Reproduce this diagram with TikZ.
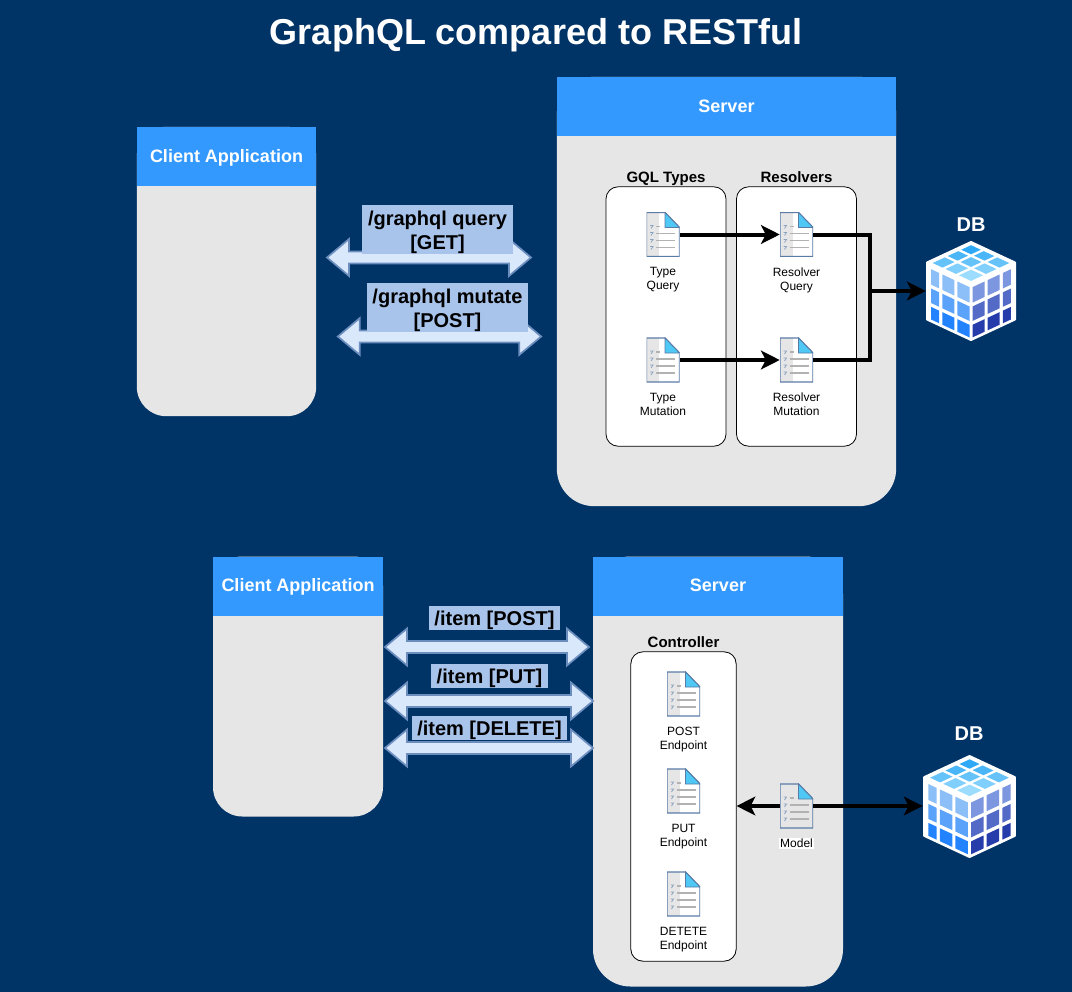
\documentclass[tikz,border=0pt]{standalone}
\usepackage{fontspec}
\setmainfont{Liberation Sans}
\usetikzlibrary{arrows.meta,calc,positioning,shapes.arrows}
\definecolor{navy}{HTML}{003366}
\definecolor{headblue}{HTML}{3399FF}
\definecolor{panelgrey}{HTML}{E6E6E6}
\definecolor{tagblue}{HTML}{A9C4EB}
\definecolor{shaftblue}{HTML}{DAE8FC}
\definecolor{shaftedge}{HTML}{6C8EBF}
\definecolor{docedge}{HTML}{5A7BA6}
\definecolor{foldblue}{HTML}{4FC8F5}
\definecolor{cubeleft}{HTML}{8CBEF8}
\definecolor{cubeleftlow}{HTML}{1E80FF}
\definecolor{cuberight}{HTML}{7C96E0}
\definecolor{cuberightlow}{HTML}{2237A8}
\definecolor{cubetop}{HTML}{9CDCFF}
\definecolor{cubeback}{HTML}{2FA9F5}
\tikzset{
docshape/.pic={
\fill[panelgrey] (-16.5,-22) rectangle (-4,22);
\draw[docedge,line width=1pt] (-16.5,-22)--(2,-22)--(16.5,-7)--(16.5,22)--(-16.5,22)--cycle;
\fill[foldblue,draw=docedge,line width=.6pt] (2,-22)--(16.5,-7)--(2,-7)--cycle;
\foreach \ly in {-1,6,13}{\draw[gray!60,line width=.9pt] (-7,\ly)--(12,\ly);}
\draw[gray!60,line width=.9pt] (-7,-8)--(-3,-8);
\foreach \ly in {-9,-2,5,12}{\draw[docedge!70,line width=.6pt] (-13,\ly)--(-10,\ly)--(-12,\ly+3);}
},
cubeshape/.pic={
\fill[white,draw=white,line width=1.5pt,line join=round] (0,-49)--(44,-28.5)--(44,28.5)--(0,49)--(-44,28.5)--(-44,-28.5)--cycle;
\foreach \ra/\rb/\tr in {.25/1.05/100,1.25/2/55,2.2/2.85/5}{
\foreach \ca/\cb in {.1/.91,1.11/1.91,2.13/2.66}{
\fill[cubeleft!\tr!cubeleftlow] ({-\ca*15},{-8-\ca*7+\ra*19.33})--({-\cb*15},{-8-\cb*7+\ra*19.33})--({-\cb*15},{-8-\cb*7+\rb*19.33})--({-\ca*15},{-8-\ca*7+\rb*19.33})--cycle;
\fill[cuberight!\tr!cuberightlow] ({\ca*15},{-8-\ca*7+\ra*19.33})--({\cb*15},{-8-\cb*7+\ra*19.33})--({\cb*15},{-8-\cb*7+\rb*19.33})--({\ca*15},{-8-\ca*7+\rb*19.33})--cycle;
}}
\foreach \ra/\rb/\ta in {.15/.95/0,1.15/1.85/1,2.05/2.7/2}{
\foreach \ca/\cb/\tb in {.15/.95/0,1.15/1.85/1,2.05/2.7/2}{
\pgfmathtruncatemacro\tmix{100-(\ta+\tb)*25}
\fill[cubetop!\tmix!cubeback] ({(\ca-\ra)*15},{-8-(\ca+\ra)*7})--({(\cb-\ra)*15},{-8-(\cb+\ra)*7})--({(\cb-\rb)*15},{-8-(\cb+\rb)*7})--({(\ca-\rb)*15},{-8-(\ca+\rb)*7})--cycle;
}}
}}
\begin{document}
\begin{tikzpicture}[x=.75pt,y=-.75pt,>={Stealth[length=14pt,width=14pt,inset=3.5pt]},every node/.style={align=center},
panel/.style={fill=panelgrey,rounded corners=22pt,inner sep=0pt},
head/.style={fill=headblue,anchor=north,inner sep=0pt,minimum height=44.25pt,text height=8.5pt,text depth=0pt,text=white,font=\fontsize{13.5}{16}\selectfont\bfseries},
group/.style={draw=black,fill=white,rounded corners=9pt,inner sep=0pt,line width=.6pt},
grouptitle/.style={font=\fontsize{11.25}{13}\selectfont\bfseries,inner sep=0pt,text height=8pt,text depth=0pt,above=2.8pt of #1},
docicon/.style={minimum width=24.75pt,minimum height=33.5pt,inner sep=0pt,path picture={\pic at (path picture bounding box.center) {docshape};}},
doclabel/.style={font=\fontsize{9}{10.5}\selectfont,inner sep=0pt,below=7.6pt of #1},
dbicon/.style={minimum width=67.5pt,minimum height=75pt,inner sep=0pt},
dblabel/.style={text=white,font=\fontsize{15}{18}\selectfont\bfseries,inner sep=0pt},
bigarrow/.style={double arrow,draw=shaftedge,fill=shaftblue,line width=1.3pt,inner sep=3.9pt,minimum width=27pt,double arrow head extend=9.3pt,double arrow tip angle=80},
tag/.style={fill=tagblue,font=\fontsize{15}{18}\selectfont\bfseries,inner xsep=0pt,inner ysep=0pt,minimum height=18pt},
tagline/.style={tag,text height=14pt,text depth=3pt},
link/.style={line width=3pt,line join=miter}]
\fill[navy] (0,0) rectangle (1072,992);
\useasboundingbox (0,0) rectangle (1072,992);
\node[text=white,font=\fontsize{27}{32}\selectfont\bfseries,inner sep=0pt,text height=20pt,text depth=0pt] (title) at (536,31) {GraphQL compared to RESTful};
% graphql half
\node[panel,minimum width=134.5pt,minimum height=217pt] (client1) at (226.5,271.5) {};
\node[head,minimum width=134.5pt] (client1h) at (client1.north) {Client Application};
\node[panel,minimum width=254.5pt,minimum height=322pt,rounded corners=28pt] (server1) at (726.5,291.5) {};
\node[head,minimum width=254.5pt] (server1h) at (server1.north) {Server};
\node[group,minimum width=90pt,minimum height=194.5pt] (types) at (666,316.5) {};
\node[group,minimum width=90pt,minimum height=194.5pt] (resolvers) at (796.5,316.5) {};
\node[grouptitle=types] (typest) {GQL Types};
\node[grouptitle=resolvers] (resolverst) {Resolvers};
\node[docicon] (tq) at (663,234.5) {};
\node[docicon] (tm) at (663,360) {};
\node[docicon] (rq) at (796.5,234.5) {};
\node[docicon] (rm) at (796.5,360) {};
\node[doclabel=tq] (tql) {Type\\Query};
\node[doclabel=tm] (tml) {Type\\Mutation};
\node[doclabel=rq] (rql) {Resolver\\Query};
\node[doclabel=rm] (rml) {Resolver\\Mutation};
\node[dbicon] (db1) at (971,291) {};
\pic at (db1) {cubeshape};
\node[dblabel] (db1l) at (971,225) {DB};
\coordinate (join1) at (870,291);
\draw[link,->] (tq)--(rq);
\draw[link,->] (tm)--(rm);
\draw[link] (rq.east)-|(join1);
\draw[link] (rm.east)-|(join1);
\draw[link,->] (join1)--(db1.west);
\node[bigarrow,minimum height=153pt] (gqarrow) at (429,257.5) {};
\node[bigarrow,minimum height=152.5pt] (gmarrow) at (439.5,336.5) {};
\node[tag,minimum width=113.25pt,minimum height=36.75pt] (gqtag) at (437.5,229.5) {\rule{0pt}{14.5pt}/graphql query\\{}[GET]};
\node[tag,minimum width=120.75pt,minimum height=36.75pt] (gmtag) at (447.5,307.5) {\rule{0pt}{14.5pt}/graphql mutate\\{}[POST]};
% rest half
\node[panel,minimum width=127.5pt,minimum height=195pt] (client2) at (298,686.5) {};
\node[head,minimum width=127.5pt] (client2h) at (client2.north) {Client Application};
\node[panel,minimum width=187.5pt,minimum height=322.5pt,rounded corners=28pt] (server2) at (718,771.5) {};
\node[head,minimum width=187.5pt] (server2h) at (server2.north) {Server};
\node[group,minimum width=79pt,minimum height=232pt] (controller) at (683.5,806.5) {};
\node[grouptitle=controller] (controllert) {Controller};
\node[docicon] (post) at (683.5,694) {};
\node[docicon] (put) at (683.5,791) {};
\node[docicon] (del) at (683.5,894) {};
\node[docicon] (model) at (796.5,806) {};
\node[doclabel=post] (postl) {POST\\Endpoint};
\node[doclabel=put] (putl) {PUT\\Endpoint};
\node[doclabel=del] (dell) {DETETE\\Endpoint};
\node[doclabel=model,fill=white,inner xsep=1pt,inner ysep=1pt,below=6.6pt of model] (modell) {Model};
\node[dbicon,minimum width=70pt,minimum height=77pt] (db2) at (969.5,806.5) {};
\pic[scale=1.03] at (db2) {cubeshape};
\node[dblabel] (db2l) at (969,734) {DB};
\draw[link,->] (model.west)--(controller.east|-model.west);
\draw[link,->] (model.east)--(db2.west|-model.east);
\node[bigarrow,minimum height=153pt] (postarrow) at (487,647) {};
\node[bigarrow,minimum height=156pt] (putarrow) at (489,701) {};
\node[bigarrow,minimum height=156pt] (delarrow) at (489,748) {};
\node[tagline,minimum width=98.25pt] (posttag) at (494.5,618) {/item [POST]};
\node[tagline,minimum width=87.75pt] (puttag) at (489.5,676) {/item [PUT]};
\node[tagline,minimum width=116.25pt] (deltag) at (489.5,728) {/item [DELETE]};
\end{tikzpicture}
\end{document}
